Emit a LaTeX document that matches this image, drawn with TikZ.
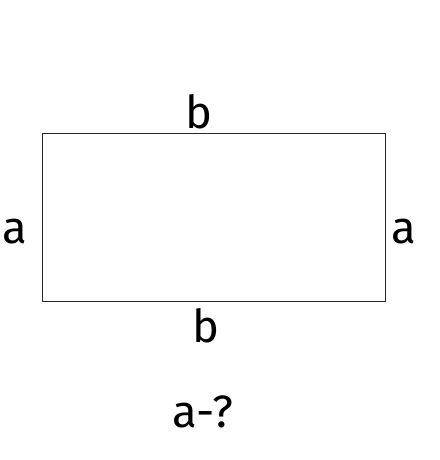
\documentclass[tikz,border=0pt]{standalone}
\usepackage{fontspec}
\setmainfont{Fira Sans}
\begin{document}
\begin{tikzpicture}[x=0.75pt,y=-0.75pt,
  lbl/.style={anchor=base,inner sep=0pt,font=\fontsize{34}{36}\selectfont}]
\useasboundingbox (0,0) rectangle (439,460);
\draw[line width=0.6pt,draw=black!85] (42,133) coordinate (tl) rectangle (385,301) coordinate (br);
\node[lbl] (btop) at (199,128) {b};
\node[lbl] (bbot) at (206,342) {b};
\node[lbl] (aleft) at (15,243) {a};
\node[lbl] (aright) at (404,243) {a};
\node[lbl] (q) at (203,427) {a-?};
\end{tikzpicture}
\end{document}
